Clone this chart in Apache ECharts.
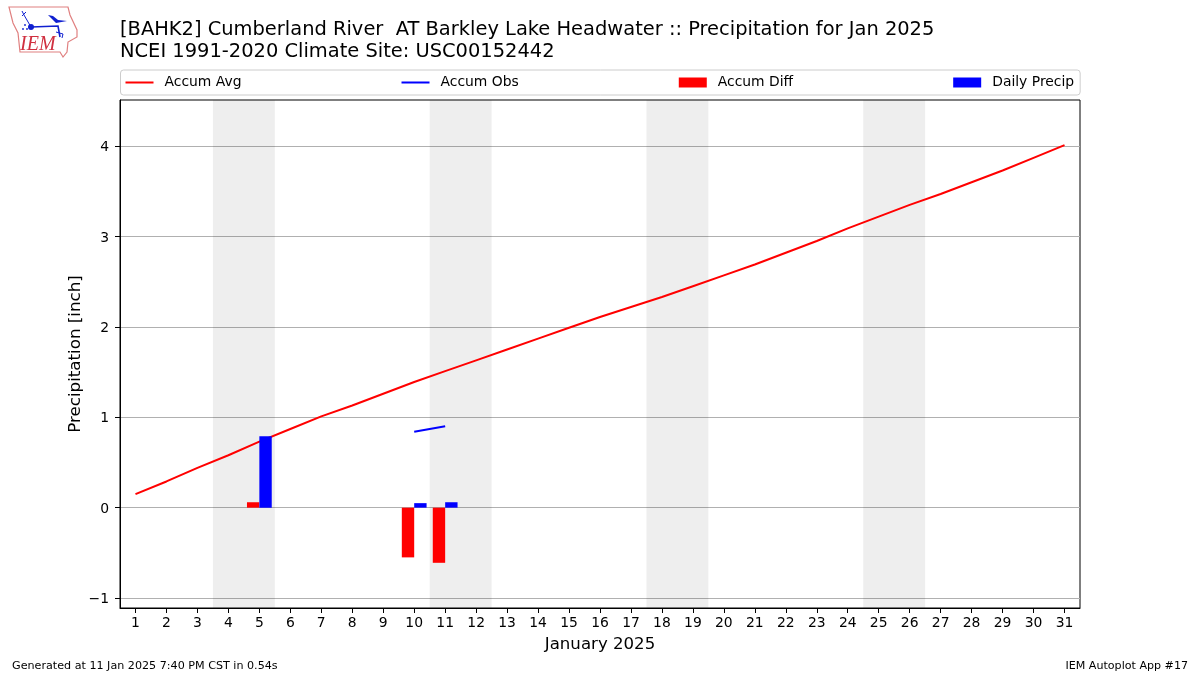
<!DOCTYPE html>
<html><head><meta charset="utf-8">
<style>html,body{margin:0;padding:0;background:#fff}#c{width:1200px;height:675px}</style>
<script src="https://cdn.jsdelivr.net/npm/echarts@6/dist/echarts.min.js"></script>
</head><body><div id="c"></div>
<script>
const titleLines = ["[BAHK2] Cumberland River  AT Barkley Lake Headwater :: Precipitation for Jan 2025", "NCEI 1991-2020 Climate Site: USC00152442"];
const days = ["1","2","3","4","5","6","7","8","9","10","11","12","13","14","15","16","17","18","19","20","21","22","23","24","25","26","27","28","29","30","31"];
const accumAvg = [0.15,0.29,0.44,0.58,0.73,0.87,1.01,1.13,1.26,1.39,1.51,1.63,1.75,1.87,1.99,2.11,2.22,2.33,2.45,2.57,2.69,2.82,2.95,3.09,3.22,3.35,3.47,3.60,3.73,3.87,4.01];
const accumObs = [null,null,null,null,null,null,null,null,null,0.84,0.90,null,null,null,null,null,null,null,null,null,null,null,null,null,null,null,null,null,null,null,null];
const accumDiff = [null,null,null,null,0.06,null,null,null,null,-0.55,-0.61,null,null,null,null,null,null,null,null,null,null,null,null,null,null,null,null,null,null,null,null];
const dailyPrecip = [null,null,null,null,0.79,null,null,null,null,0.05,0.06,null,null,null,null,null,null,null,null,null,null,null,null,null,null,null,null,null,null,null,null];
const weekendSpans = [[3.5,5.5],[10.5,12.5],[17.5,19.5],[24.5,26.5]];
const yTicks = [-1,0,1,2,3,4];
const font = "DejaVu Sans";
const chart = echarts.init(document.getElementById('c'), null, {renderer:'canvas'});
const logoOutline = [[9,7],[68,7],[70,15],[77,30],[77,37],[68,42],[67,52],[63,57],[60,52],[20,52],[18,33],[13,23]];
const lineIcon = 'path://M0,0 L0,0 Z M0,4 L28,4 L28,6 L0,6 Z M28,10 L28,10 Z';
const logoBlue = '#1020d0';
chart.setOption({
  animation:false,
  textStyle:{fontFamily:font},
  grid:{left:120,right:120,top:100,bottom:67,show:true,borderColor:'#000',borderWidth:1,backgroundColor:'transparent',containLabel:false},
  legend:{
    data:[
      {name:'Accum Avg',icon:lineIcon},{name:'Accum Obs',icon:lineIcon},
      {name:'Accum Diff',icon:'rect'},{name:'Daily Precip',icon:'rect'}
    ],
    left:120.5,top:70,padding:[5.5,6,5.5,5],itemWidth:28,itemHeight:10,itemGap:160,
    borderColor:'#ccc',borderWidth:1,borderRadius:3,backgroundColor:'#fff',
    textStyle:{fontFamily:font,fontSize:13.9,color:'#000',padding:[0,0,0,6]},selectedMode:false
  },
  xAxis:[
    {type:'category',data:days,boundaryGap:true,
     axisLine:{show:true,onZero:false,lineStyle:{color:'#000',width:1}},
     axisTick:{show:true,alignWithLabel:true,length:5,lineStyle:{color:'#000'}},
     axisLabel:{interval:0,fontFamily:font,fontSize:13.9,color:'#000',margin:8},
     splitLine:{show:false},
     name:'January 2025',nameLocation:'middle',nameGap:28,nameMoveOverlap:false,
     nameTextStyle:{fontFamily:font,fontSize:16.6,color:'#000'}},
    {type:'value',min:0.5,max:31.5,show:false,position:'bottom'}
  ],
  yAxis:{type:'value',min:-1.11,max:4.51,
    axisLine:{show:true,lineStyle:{color:'#000',width:1}},
    axisTick:{show:true,length:5,lineStyle:{color:'#000'},customValues:yTicks},
    axisLabel:{fontFamily:font,fontSize:13.9,color:'#000',margin:11,customValues:yTicks,
      formatter:v=>'{a|'+String(v).replace('-','\u2212')+'}',
      rich:{a:{fontFamily:font,fontSize:13.9,color:'#000',padding:[3,0,0,0]}}},
    splitLine:{show:true,lineStyle:{color:'#b0b0b0',width:1}},
    name:'Precipitation [inch]',nameLocation:'middle',nameGap:36,nameRotate:90,nameMoveOverlap:false,
    nameTextStyle:{fontFamily:font,fontSize:16.7,color:'#000'}},
  series:[
    {type:'line',name:'weekend',xAxisIndex:1,data:[],silent:true,z:1,
     markArea:{silent:true,itemStyle:{color:'rgba(0,0,0,0.067)'},
       data:weekendSpans.map(s=>[{xAxis:s[0]},{xAxis:s[1]}])}},
    {type:'line',name:'Accum Avg',data:accumAvg,showSymbol:false,symbol:'none',z:3,
     lineStyle:{color:'#f00',width:2},itemStyle:{color:'#f00'}},
    {type:'line',name:'Accum Obs',data:accumObs,showSymbol:false,symbol:'none',connectNulls:false,z:3,
     lineStyle:{color:'#00f',width:2},itemStyle:{color:'#00f'}},
    {type:'bar',name:'Accum Diff',data:accumDiff,barWidth:'40%',barGap:0,z:4,itemStyle:{color:'#f00'}},
    {type:'bar',name:'Daily Precip',data:dailyPrecip,barWidth:'40%',barGap:0,z:4,itemStyle:{color:'#00f'}}
  ],
  graphic:[
    {type:'text',left:120,top:20,z:10,style:{text:titleLines[0],font:'19.45px "DejaVu Sans"',fill:'#000'}},
    {type:'text',left:120,top:42,z:10,style:{text:titleLines[1],font:'19.45px "DejaVu Sans"',fill:'#000'}},
    {type:'text',left:12,top:661,z:10,style:{text:'Generated at 11 Jan 2025 7:40 PM CST in 0.54s',font:'11.15px "DejaVu Sans"',fill:'#000'}},
    {type:'text',right:12,top:661,z:10,style:{text:'IEM Autoplot App #17',font:'11.1px "DejaVu Sans"',fill:'#000'}},
    {type:'polygon',z:10,shape:{points:logoOutline},style:{fill:'none',stroke:'#e08080',lineWidth:1.2}},
    {type:'text',left:20,top:35,z:10,style:{text:'IEM',font:'italic 20px "Liberation Serif"',fill:'#d03040'}},
    {type:'polyline',z:10,shape:{points:[[31,27],[58,26],[60,37]]},style:{stroke:logoBlue,fill:'none',lineWidth:1.6}},
    {type:'polyline',z:10,shape:{points:[[31,27],[24,15],[22,11]]},style:{stroke:logoBlue,fill:'none',lineWidth:1}},
    {type:'polyline',z:10,shape:{points:[[22,16],[26,12]]},style:{stroke:logoBlue,fill:'none',lineWidth:1}},
    {type:'polygon',z:10,shape:{points:[[48,15],[53,16],[58,20],[67,21],[56,23]]},style:{fill:logoBlue}},
    {type:'polyline',z:10,shape:{points:[[56,32],[63,34],[62,38]]},style:{stroke:logoBlue,fill:'none',lineWidth:1}},
    {type:'circle',z:10,shape:{cx:31,cy:27,r:3},style:{fill:logoBlue}},
    {type:'circle',z:10,shape:{cx:25,cy:25,r:0.9},style:{fill:logoBlue}},
    {type:'circle',z:10,shape:{cx:23,cy:29,r:0.9},style:{fill:logoBlue}},
    {type:'circle',z:10,shape:{cx:27,cy:29,r:0.9},style:{fill:logoBlue}}
  ]
});
</script></body></html>
